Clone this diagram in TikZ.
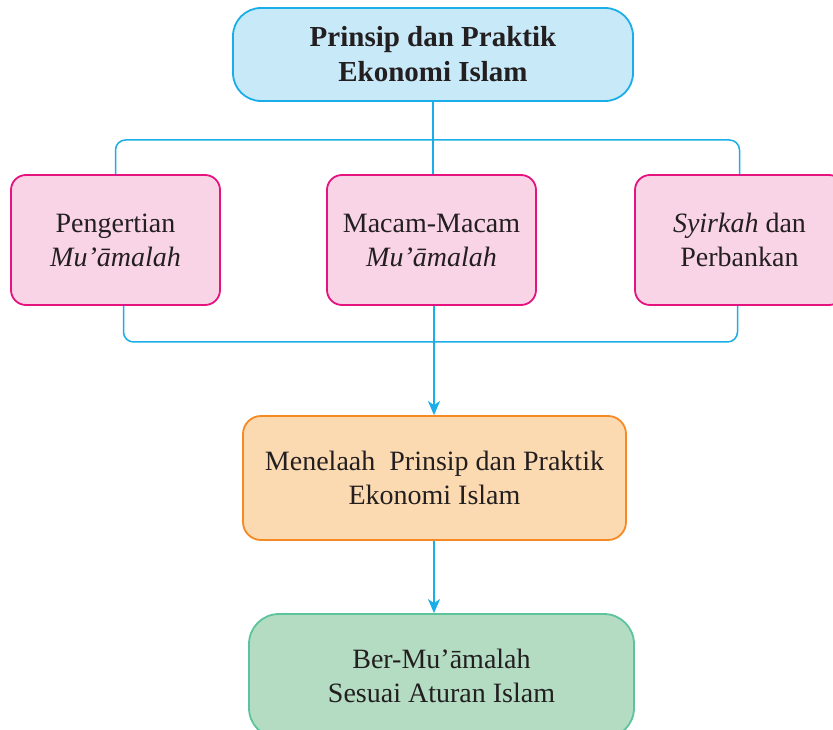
\documentclass[tikz,border=0pt]{standalone}
\usepackage{fontspec}
\setmainfont{Liberation Serif}
\usetikzlibrary{arrows.meta}
\definecolor{cline}{HTML}{1AAEE8}
\definecolor{topfill}{HTML}{C8E9F8}
\definecolor{pinkfill}{HTML}{F9D4E6}
\definecolor{pinkline}{HTML}{E5127F}
\definecolor{orfill}{HTML}{FCDAB1}
\definecolor{orline}{HTML}{F58A24}
\definecolor{grfill}{HTML}{B3DCC2}
\definecolor{grline}{HTML}{5CC49C}
\definecolor{txt}{HTML}{231F20}
\tikzset{
  base/.style={draw, line width=1.8pt, align=center, text=txt,
    font=\fontsize{28}{34}\selectfont, inner sep=0pt},
  topbox/.style={base, fill=topfill, draw=cline, rounded corners=28pt,
    minimum width=400pt, minimum height=93pt, font=\fontsize{29}{35}\selectfont\bfseries},
  pinkbox/.style={base, fill=pinkfill, draw=pinkline, rounded corners=15pt,
    minimum width=209pt, minimum height=130pt},
  orbox/.style={base, fill=orfill, draw=orline, rounded corners=18pt,
    minimum width=383pt, minimum height=124pt},
  grbox/.style={base, fill=grfill, draw=grline, rounded corners=30pt,
    minimum width=385pt, minimum height=124pt},
  conn/.style={draw=cline, line width=1.5pt},
  arr/.style={conn, -{Stealth[length=14pt,width=12pt,inset=4pt]}}
}
\begin{document}
\begin{tikzpicture}[x=1pt,y=1pt]
\useasboundingbox (0,0) rectangle (833,729);
\node[topbox] (top) at (433,674.5) {Prinsip dan Praktik\\Ekonomi Islam};
\node[pinkbox] (pl) at (115.5,489) {Pengertian\\\textit{Mu’āmalah}};
\node[pinkbox] (pm) at (431.5,489) {Macam-Macam\\\textit{Mu’āmalah}};
\node[pinkbox] (pr) at (739.5,489) {\textit{Syirkah} dan\\Perbankan};
\node[orbox] (or) at (434.5,251) {Menelaah\ \ Prinsip dan Praktik\\Ekonomi Islam};
\node[grbox] (gr) at (441.5,53) {Ber-Mu’āmalah\\Sesuai Aturan Islam};
\coordinate (tj) at (433,589);
\draw[conn] (top.south) -- (top.south |- pm.north);
\draw[conn, rounded corners=10pt] (pl.north) |- (tj) -| (pr.north);
\coordinate (bj) at (434,387);
\draw[conn, rounded corners=10pt] ([xshift=8pt]pl.south) |- (bj) -| ([xshift=-2pt]pr.south);
\draw[conn] (bj |- pm.south) -- (bj);
\draw[arr] (bj) -- (bj |- or.north);
\draw[arr] (bj |- or.south) -- (bj |- gr.north);
\end{tikzpicture}
\end{document}
